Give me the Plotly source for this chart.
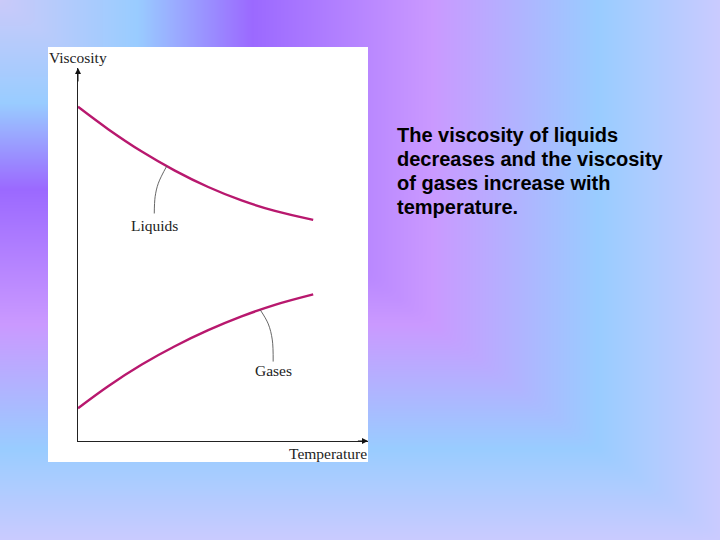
import numpy as np
import plotly.graph_objects as go

# ---- data (arbitrary units 0-100) ----
liquids_x = [0, 10.4, 22.0, 33.4, 44.9, 56.4, 67.9, 81.1]
liquids_y = [89.6, 83.6, 77.6, 72.5, 68.1, 64.5, 61.7, 59.3]
gases_x = [0, 10.4, 22.0, 33.4, 44.9, 56.4, 67.9, 81.1]
gases_y = [8.8, 14.7, 20.5, 25.4, 29.7, 33.4, 36.5, 39.3]

liq_leader_x = [30.6, 27.7, 26.6, 26.3]
liq_leader_y = [73.7, 69.1, 65.5, 61.0]
gas_leader_x = [62.8, 65.6, 67.0, 67.3]
gas_leader_y = [35.2, 31.4, 27.1, 21.3]

x_label = "Temperature"
y_label = "Viscosity"
curve_labels = ["Liquids", "Gases"]
caption_lines = ["The viscosity of liquids", "decreases and the viscosity",
                 "of gases increase with", "temperature."]

W, H = 720, 540
CURVE = "#b8186e"
SERIF = "Liberation Serif, Times New Roman, serif"

# ---- background gradient (from top-left corner, rectangular) ----
gx = np.arange(0, W + 1, 10)
gy = np.arange(0, H + 1, 10)
GX, GY = np.meshgrid(gx, gy)
Z = np.maximum(GX / W, GY / H)
bg_scale = [[0.0, "#cacaf9"], [0.19, "#99ccff"], [0.35, "#9b69ff"],
            [0.60, "#ca99ff"], [0.83, "#99ccff"], [1.0, "#cacbff"]]

fig = go.Figure()
fig.add_trace(go.Heatmap(x=gx, y=gy, z=Z, colorscale=bg_scale, zsmooth="best",
                         showscale=False, hoverinfo="skip", xaxis="x", yaxis="y"))
# white panel
px0, px1, py0, py1 = 48, 368, 47, 462
fig.add_trace(go.Scatter(x=[px0, px1, px1, px0, px0], y=[py0, py0, py1, py1, py0],
                         fill="toself", fillcolor="white", mode="lines",
                         line=dict(width=0, color="white"), hoverinfo="skip",
                         showlegend=False, xaxis="x", yaxis="y"))

# ---- chart ----
fig.add_trace(go.Scatter(x=liquids_x, y=liquids_y, mode="lines",
                         line=dict(color=CURVE, width=2.4, shape="spline", smoothing=1),
                         showlegend=False, xaxis="x2", yaxis="y2"))
fig.add_trace(go.Scatter(x=gases_x, y=gases_y, mode="lines",
                         line=dict(color=CURVE, width=2.4, shape="spline", smoothing=1),
                         showlegend=False, xaxis="x2", yaxis="y2"))
for lx, ly in [(liq_leader_x, liq_leader_y), (gas_leader_x, gas_leader_y)]:
    fig.add_trace(go.Scatter(x=lx, y=ly, mode="lines",
                             line=dict(color="#555555", width=0.9, shape="spline"),
                             showlegend=False, xaxis="x2", yaxis="y2"))

# domain of chart in pixels
ax_left, ax_right, ax_bottom, ax_top = 78, 368, 441, 68
fig.update_layout(
    width=W, height=H, autosize=False,
    margin=dict(l=0, r=0, t=0, b=0),
    paper_bgcolor="#c0c8ff", plot_bgcolor="rgba(0,0,0,0)",
    showlegend=False,
    xaxis=dict(domain=[0, 1], range=[0, W], visible=False, fixedrange=True),
    yaxis=dict(domain=[0, 1], range=[H, 0], visible=False, fixedrange=True),
    xaxis2=dict(domain=[ax_left / W, ax_right / W], range=[0, 100], anchor="y2",
                showline=True, linecolor="#222222", linewidth=1, showgrid=False,
                zeroline=False, showticklabels=False, ticks="", fixedrange=True),
    yaxis2=dict(domain=[1 - ax_bottom / H, 1 - ax_top / H], range=[0, 100], anchor="x2",
                showline=True, linecolor="#222222", linewidth=1, showgrid=False,
                zeroline=False, showticklabels=False, ticks="", fixedrange=True),
)

ann = []
# axis arrowheads
ann.append(dict(x=0, y=100, ax=0, ay=96, xref="x2", yref="y2", axref="x2", ayref="y2",
                text="", showarrow=True, arrowhead=2, arrowsize=1.2, arrowwidth=1,
                arrowcolor="#111111", standoff=0))
ann.append(dict(x=100, y=0, ax=96, ay=0, xref="x2", yref="y2", axref="x2", ayref="y2",
                text="", showarrow=True, arrowhead=2, arrowsize=1.2, arrowwidth=1,
                arrowcolor="#111111", standoff=0))
# axis labels
ann.append(dict(x=47, y=57, xref="x", yref="y", text=y_label, showarrow=False,
                xanchor="left", yanchor="middle",
                font=dict(family=SERIF, size=15.5, color="#222222")))
ann.append(dict(x=369, y=453, xref="x", yref="y", text=x_label, showarrow=False,
                xanchor="right", yanchor="middle",
                font=dict(family=SERIF, size=15.5, color="#222222")))
# curve labels
ann.append(dict(x=154, y=225, xref="x", yref="y", text=curve_labels[0], showarrow=False,
                xanchor="center", yanchor="middle",
                font=dict(family=SERIF, size=15.5, color="#222222")))
ann.append(dict(x=273, y=370, xref="x", yref="y", text=curve_labels[1], showarrow=False,
                xanchor="center", yanchor="middle",
                font=dict(family=SERIF, size=15.5, color="#222222")))
# caption, one line each for exact spacing
for i, line in enumerate(caption_lines):
    ann.append(dict(x=395, y=135 + 24 * i, xref="x", yref="y", text=line,
                    showarrow=False, xanchor="left", yanchor="middle", align="left",
                    font=dict(family="Liberation Sans, Arial, sans-serif", size=20,
                              color="#000000", weight="bold")))
fig.update_layout(annotations=ann)

fig.write_html("out.html", config={"displayModeBar": False, "staticPlot": True},
               post_script="document.body.style.margin='0';document.body.style.padding='0';")
